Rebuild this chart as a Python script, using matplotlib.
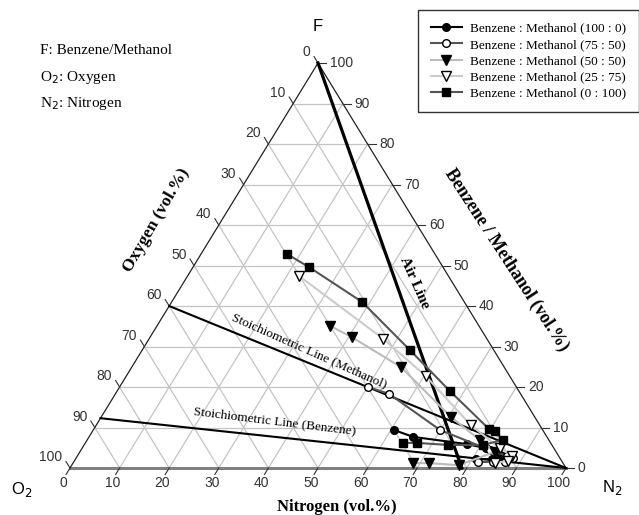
import matplotlib
matplotlib.use('Agg')
import matplotlib.pyplot as plt
import numpy as np
from matplotlib.lines import Line2D

# ternary data: N = nitrogen %, F = fuel (benzene/methanol) %, O2 = rest
labels = ['Benzene : Methanol (100 : 0)', 'Benzene : Methanol (75 : 50)',
          'Benzene : Methanol (50 : 50)', 'Benzene : Methanol (25 : 75)',
          'Benzene : Methanol (0 : 100)']

n_100_0 = [60.6, 65.3, 77.1, 81.4, 84.3, 85.8, 84.0, 80.8]
f_100_0 = [9.4, 7.7, 5.9, 4.9, 4.0, 3.0, 2.2, 2.2]

n_75_50 = [50.1, 55.2, 69.9, 82.5, 86.6, 88.1, 87.0, 84.5, 81.5]
f_75_50 = [20.0, 18.3, 9.4, 4.4, 3.0, 2.5, 1.5, 1.5, 1.5]

n_50_50 = [34.9, 40.7, 54.3, 70.5, 79.2, 83.7, 78.0, 71.8, 68.6]
f_50_50 = [35.1, 32.3, 24.9, 12.6, 6.9, 4.0, 0.7, 1.2, 1.2]

n_25_75 = [22.5, 47.2, 60.4, 75.5, 84.2, 87.6, 87.5, 85.0]
f_25_75 = [47.4, 31.9, 22.7, 10.6, 4.9, 3.0, 1.7, 1.3]

n_0_100 = [17.4, 23.4, 38.4, 54.0, 67.1, 79.7, 81.1, 83.8, 80.4, 73.4, 66.9, 64.0]
f_0_100 = [52.8, 49.6, 41.0, 29.1, 19.0, 9.6, 9.1, 6.9, 5.7, 5.7, 6.2, 6.2]

ticks = list(range(0, 101, 10))

# reference lines (N values, F values), the stoichiometric ones end at the N2 corner
air_line = ([0, 79], [100, 0])
stoich_methanol = ([0, 100], [40, 0])
stoich_benzene = ([0, 100], [12.3, 0])


def tern(n, f):
    n = np.asarray(n, dtype=float)
    f = np.asarray(f, dtype=float)
    return n + f / 2, f


fig = plt.figure(figsize=(6.39, 5.15), dpi=100)
ax = fig.add_axes([0, 0, 1, 1])
ax.set_xlim(-14.11, 114.72)
ax.set_ylim(-11.6, 115.56)
ax.axis('off')

grid_c = '#c4c4c4'
for v in ticks[1:-1]:
    # constant F
    x, y = tern([0, 100 - v], [v, v])
    ax.plot(x, y, color=grid_c, lw=0.9, zorder=1)
    # constant N
    x, y = tern([v, v], [0, 100 - v])
    ax.plot(x, y, color=grid_c, lw=0.9, zorder=1)
    # constant O
    x, y = tern([0, 100 - v], [100 - v, 0])
    ax.plot(x, y, color=grid_c, lw=0.9, zorder=1)

# triangle edges
x, y = tern([0, 100], [0, 0])
ax.plot(x, y, color='#808080', lw=2.2, zorder=2)
x, y = tern([0, 0], [0, 100])
ax.plot(x, y, color='#222222', lw=0.9, zorder=2)
x, y = tern([100, 0], [0, 100])
ax.plot(x, y, color='#222222', lw=0.9, zorder=2)

tick_font = dict(family='Liberation Sans', fontsize=10, color='#333333')
tl = 1.6
for v in ticks:
    # bottom (nitrogen)
    x, y = tern(v, 0)
    ax.plot([x, x - tl * 0.5], [y, y - tl], color='#333333', lw=0.8)
    ax.text(x - 1.4, -3.7, str(v), ha='center', va='center', **tick_font)
    # right (benzene/methanol)
    x, y = tern(100 - v, v)
    ax.plot([x, x + tl], [y, y], color='#333333', lw=0.8)
    ax.text(x + 2.4, y, str(v), ha='left', va='center', **tick_font)
    # left (oxygen)
    x, y = tern(0, 100 - v)
    ax.plot([x, x - tl * 0.5], [y, y + tl], color='#333333', lw=0.8)
    ax.text(x - 1.5, y + 2.7, str(v), ha='right', va='center', **tick_font)

# reference lines
for (n, f), lw in [(air_line, 2.3), (stoich_methanol, 1.5), (stoich_benzene, 1.5)]:
    x, y = tern(n, f)
    ax.plot(x, y, color='black', lw=lw, zorder=3)

serif = 'Liberation Serif'
ax.text(69.4, 45.7, 'Air Line', family=serif, fontsize=11, fontweight='bold',
        rotation=-66, ha='center', va='center')
ax.text(48.2, 29.0, 'Stoichiometric Line (Methanol)', family=serif, fontsize=9.5,
        rotation=-24, ha='center', va='center')
ax.text(41.3, 11.5, 'Stoichiometric Line (Benzene)', family=serif, fontsize=9.5,
        rotation=-7, ha='center', va='center')

series = [
    (n_100_0, f_100_0, 'black', dict(marker='o', mfc='black', mec='black', ms=5.5)),
    (n_75_50, f_75_50, '#555555', dict(marker='o', mfc='white', mec='black', ms=5.5)),
    (n_50_50, f_50_50, '#bbbbbb', dict(marker='v', mfc='black', mec='black', ms=6.5)),
    (n_25_75, f_25_75, '#cccccc', dict(marker='v', mfc='white', mec='black', ms=6.5)),
    (n_0_100, f_0_100, '#555555', dict(marker='s', mfc='black', mec='black', ms=6)),
]
handles = []
for (n, f, c, mk), lab in zip(series, labels):
    x, y = tern(n, f)
    ax.plot(x, y, color=c, lw=1.5, zorder=4, **mk)
    handles.append(Line2D([], [], color=c, lw=1.5, label=lab, **mk))

leg = fig.legend(handles=handles, loc='upper left',
                 bbox_to_anchor=(418 / 639, 1 - 10 / 515),
                 prop=dict(family=serif, size=9.5), frameon=True, fancybox=False,
                 handlelength=2.4, borderpad=0.95, labelspacing=0.3,
                 handletextpad=0.6, borderaxespad=0)
leg.get_frame().set_edgecolor('black')
leg.get_frame().set_linewidth(1.0)

# corner labels
ax.text(50, 108.9, 'F', family='Liberation Sans', fontsize=12, ha='center', va='center')
ax.text(-9.7, -5.4, 'O$_2$', family='Liberation Sans', fontsize=12, ha='center', va='center')
ax.text(109.3, -4.9, 'N$_2$', family='Liberation Sans', fontsize=12, ha='center', va='center')

# axis titles
ax.text(53.8, -9.6, 'Nitrogen (vol.%)', family=serif, fontsize=12, fontweight='bold',
        ha='center', va='center')
ax.text(17.5, 61.2, 'Oxygen (vol.%)', family=serif, fontsize=12.5, fontweight='bold',
        rotation=60, ha='center', va='center')
ax.text(88.1, 51.4, 'Benzene / Methanol (vol.%)', family=serif, fontsize=13,
        fontweight='bold', rotation=-57, ha='center', va='center')

# key at top left
for txt, py in [('F: Benzene/Methanol', 50), ('O$_2$: Oxygen', 77), ('N$_2$: Nitrogen', 104)]:
    fig.text(40 / 639, 1 - py / 515, txt, family=serif, fontsize=11, ha='left', va='center')

fig.savefig('out.png', dpi=100)
